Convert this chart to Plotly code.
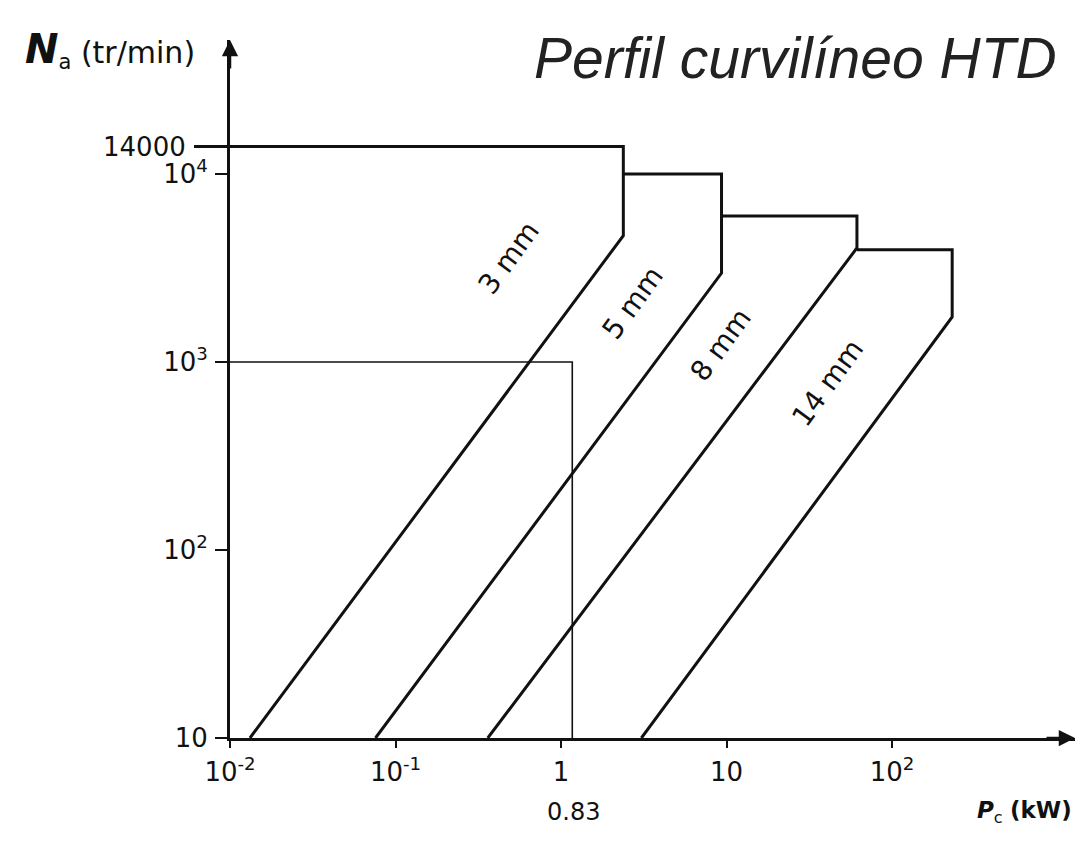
import math
import plotly.graph_objects as go

# ---- data (P in kW, N in tr/min) ----
belt_names = ["3 mm", "5 mm", "8 mm", "14 mm"]
p_3mm = [0.01, 2.38, 2.38, 0.0132]
n_3mm = [14000, 14000, 4700, 10]
p_5mm = [2.38, 9.33, 9.33, 0.0757]
n_5mm = [10000, 10000, 2970, 10]
p_8mm = [9.33, 61.4, 61.4, 0.361]
n_8mm = [5980, 5980, 4040, 10]
p_14mm = [61.4, 231, 231, 3.06]
n_14mm = [3950, 3950, 1735, 10]

reading_p = [0.01, 1.17, 1.17]
reading_n = [1000, 1000, 10]

n_max = 14000
n_max_label = "14000"

x_tickvals = [0.01, 0.1, 1, 10, 100]
x_ticktext = ["10<sup>-2</sup>", "10<sup>-1</sup>", "1", "10", "10<sup>2</sup>"]
y_tickvals = [10, 100, 1000, 10000]
y_ticktext = ["10", "10<sup>2</sup>", "10<sup>3</sup>", "10<sup>4</sup>"]

# ---- layout geometry (page body adds an 8px offset) ----
OFF = 8
W, H = 1083 - OFF, 848 - OFF
X0, Y0 = 230, 738          # reference pixel of the axes origin
PW, PH = 845, 698
ML, MT = X0 - OFF, (Y0 - PH) - OFF
MR, MB = W - ML - PW, H - MT - PH
X_DEC, Y_DEC = 165.5, 188.0
X_RANGE = [-2, -2 + PW / X_DEC]
Y_RANGE = [1, 1 + PH / Y_DEC]


def paper(px, py):
    return (px - X0) / PW, (Y0 - py) / PH


fig = go.Figure()
for p, n in [(p_3mm, n_3mm), (p_5mm, n_5mm), (p_8mm, n_8mm), (p_14mm, n_14mm)]:
    fig.add_trace(go.Scatter(x=p, y=n, mode="lines",
                             line=dict(color="#111111", width=3),
                             showlegend=False, hoverinfo="skip"))
fig.add_trace(go.Scatter(x=reading_p, y=reading_n, mode="lines",
                         line=dict(color="#111111", width=1.6),
                         showlegend=False, hoverinfo="skip"))

num_font = dict(family="DejaVu Sans", size=26, color="#111111")

annotations = []


def add_text(px, py, text, font, angle=0, xanchor="center"):
    xp, yp = paper(px, py)
    annotations.append(dict(xref="paper", yref="paper", x=xp, y=yp, text=text,
                            showarrow=False, textangle=angle,
                            xanchor=xanchor, yanchor="middle", font=font))


# belt labels along the diagonals
label_pos = [(508, 258), (632, 303), (720, 345), (827, 383)]
for name, (px, py) in zip(belt_names, label_pos):
    add_text(px, py, name, dict(family="DejaVu Sans", size=28, color="#111111"), -54)

# title
add_text(795, 58, "<i>Perfil curvilíneo HTD</i>",
         dict(family="Liberation Sans", size=57, color="#222222"))
# axis labels
add_text(110, 50, "<span style='font-size:40px'><b><i>N</i></b></span><sub>a</sub> (tr/min)",
         dict(family="DejaVu Sans", size=30, color="#111111"))
add_text(1024, 812, "<b><i>P</i></b><sub>c</sub> <b>(kW)</b>",
         dict(family="DejaVu Sans", size=23, color="#111111"))
add_text(573, 812, "0.83", dict(family="DejaVu Sans", size=24, color="#111111"))

# 14000 marker on the N axis (longer tick, label further left)
y_max_paper = (math.log10(n_max) - Y_RANGE[0]) / (Y_RANGE[1] - Y_RANGE[0])
annotations.append(dict(xref="paper", yref="paper", x=-42 / PW, y=y_max_paper,
                        text=n_max_label, showarrow=False, xanchor="right",
                        yanchor="middle", font=num_font))
shapes = [dict(type="line", xref="paper", yref="paper", x0=-36 / PW, x1=0,
               y0=y_max_paper, y1=y_max_paper,
               line=dict(color="#111111", width=3))]

# axis arrows
annotations.append(dict(xref="paper", yref="paper", x=0, y=1, ax=0, ay=30,
                        text="", showarrow=True, arrowhead=2, arrowsize=1.3,
                        arrowwidth=2.5, arrowcolor="#111111"))
annotations.append(dict(xref="paper", yref="paper", x=1, y=0, ax=-30, ay=0,
                        text="", showarrow=True, arrowhead=2, arrowsize=1.3,
                        arrowwidth=2.5, arrowcolor="#111111"))

fig.update_layout(
    width=W, height=H,
    margin=dict(l=ML, r=MR, t=MT, b=MB),
    paper_bgcolor="white", plot_bgcolor="white",
    annotations=annotations, shapes=shapes,
    showlegend=False,
)
fig.update_xaxes(type="log", range=X_RANGE,
                 showline=True, linecolor="#111111", linewidth=3,
                 showgrid=False, zeroline=False,
                 tickmode="array", tickvals=x_tickvals, ticktext=x_ticktext,
                 ticks="outside", ticklen=7, tickwidth=2, tickcolor="#111111",
                 ticklabelstandoff=2, tickfont=num_font)
fig.update_yaxes(type="log", range=Y_RANGE,
                 showline=True, linecolor="#111111", linewidth=3,
                 showgrid=False, zeroline=False,
                 tickmode="array", tickvals=y_tickvals, ticktext=y_ticktext,
                 ticks="outside", ticklen=12, tickwidth=2, tickcolor="#111111",
                 ticklabelstandoff=2, tickfont=num_font)

fig.write_html("out.html")
